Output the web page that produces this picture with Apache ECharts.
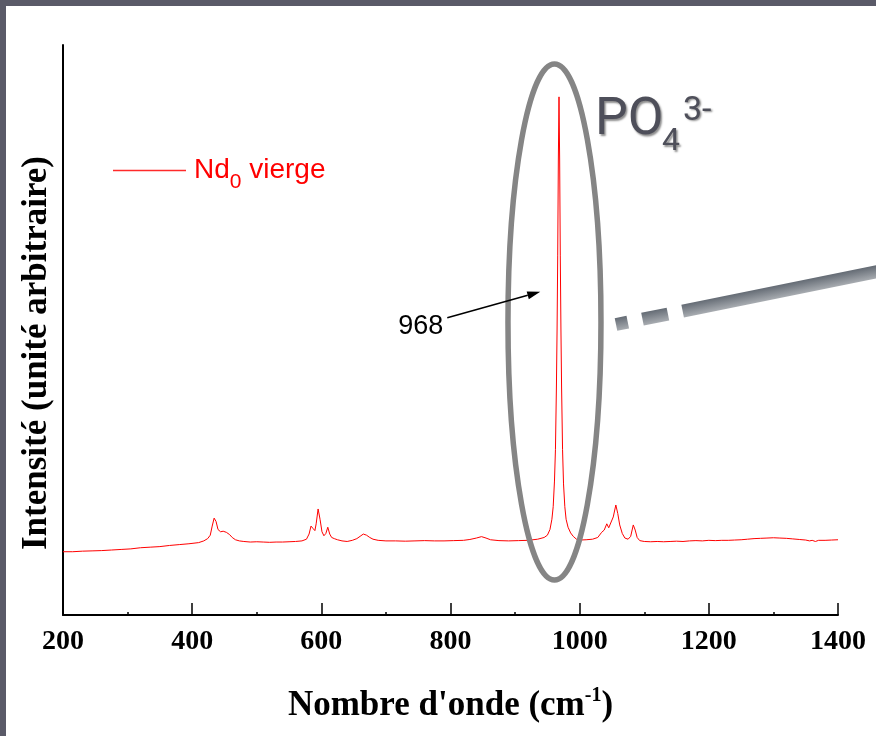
<!DOCTYPE html>
<html>
<head>
<meta charset="utf-8">
<script src="https://cdn.jsdelivr.net/npm/echarts@6/dist/echarts.min.js"></script>
<style>
  html, body { margin: 0; padding: 0; background: #5a5a68; }
  #chart { position: absolute; left: 6px; top: 6px; width: 870px; height: 730px; background: #fff; }
</style>
</head>
<body>
<div id="chart"></div>
<script>
// Raman spectrum of the pristine Nd0 sample
const seriesName = 'Nd0 vierge';
const xTicks = [200, 400, 600, 800, 1000, 1200, 1400];

const waveNumbers = [
  200, 215, 230, 245, 260, 275, 290, 305, 320, 335, 350, 365, 380, 395, 410,
  418, 424, 428, 431, 434, 437, 440, 444, 448, 453, 458, 462, 467, 473, 480,
  490, 500, 510, 520, 530, 540, 550, 560, 570, 577, 581, 584, 587, 590, 592,
  595, 598, 601, 604, 607, 610, 613, 616, 620, 625, 632, 640, 648, 655, 660,
  665, 670, 675, 680, 688, 700, 715, 730, 745, 760, 775, 790, 805, 820, 830,
  840, 848, 855, 862, 875, 890, 905, 920, 935, 945, 950, 954, 957, 959, 961,
  962.5, 964, 965, 966, 967, 968, 969, 970, 971, 972, 973.5, 975, 977, 979, 982,
  986, 990, 995, 1000, 1010, 1020, 1028, 1034, 1038, 1042, 1045, 1048, 1052, 1056, 1059,
  1062, 1066, 1070, 1075, 1079, 1083, 1086, 1089, 1093, 1100, 1110, 1120, 1130, 1140, 1150,
  1160, 1170, 1180, 1190, 1200, 1210, 1220, 1230, 1240, 1250, 1260, 1270, 1280, 1290, 1300,
  1310, 1320, 1330, 1340, 1350, 1356, 1360, 1365, 1370, 1380, 1390, 1400
];

const intensity = [
  11.1, 11.1, 11.2, 11.25, 11.3, 11.4, 11.5, 11.6, 11.8, 11.9, 12.0, 12.2, 12.35, 12.5, 12.7,
  13.0, 13.4, 14.0, 15.6, 17.0, 16.4, 15.0, 14.6, 14.7, 14.5, 14.1, 13.6, 13.2, 13.0, 12.9,
  12.8, 12.85, 12.8, 12.75, 12.8, 12.8, 12.85, 12.9, 13.0, 13.3, 14.2, 15.6, 15.2, 14.8, 16.0,
  18.6, 16.8, 14.6, 13.9, 14.3, 15.4, 14.2, 13.6, 13.4, 13.2, 13.0, 12.9, 13.1, 13.4, 13.8,
  14.2, 14.0, 13.6, 13.3, 13.1, 13.0, 13.0, 12.95, 13.0, 13.05, 13.0, 13.0, 13.05, 13.1, 13.25,
  13.5, 13.75, 13.5, 13.2, 13.05, 13.0, 13.05, 13.1, 13.3, 13.6, 14.0, 15.0, 16.8, 19.0, 23.5,
  29, 40, 50, 63, 80, 90.9, 80, 63, 50, 40, 29, 23, 19, 16.8, 15.4,
  14.4, 13.8, 13.3, 13.15, 13.2, 13.3, 13.6, 14.5, 14.9, 16.0, 15.3, 15.2, 17.2, 19.3, 17.8,
  15.8, 14.3, 13.5, 13.3, 13.8, 15.8, 14.9, 13.6, 13.05, 12.9, 12.85, 12.9, 12.85, 12.9, 12.95,
  12.9, 13.0, 13.05, 13.0, 13.1, 13.05, 13.1, 13.1, 13.15, 13.2, 13.3, 13.4, 13.45, 13.5, 13.55,
  13.5, 13.45, 13.35, 13.25, 13.15, 13.0, 13.1, 12.9, 13.1, 13.1, 13.15, 13.2
];

// Annotation anchors (data space)
const peakPosition = 968;
const peakLabel = '968';
const arrowTipData = [939, 56.7];
const ellipseCenterData = [961, 51.4];

const chart = echarts.init(document.getElementById('chart'), null, { renderer: 'canvas' });

const points = waveNumbers.map((w, i) => [w, intensity[i]]);

const serif = 'Liberation Serif, Times New Roman, serif';
const sans = 'Liberation Sans, Arial, sans-serif';

const option = {
  backgroundColor: '#ffffff',
  animation: false,
  grid: { left: 57, right: 38, top: 39, bottom: 121, containLabel: false },
  legend: {
    left: 107,
    top: 142,
    padding: 0,
    icon: 'rect',
    itemWidth: 73,
    itemHeight: 1.4,
    itemStyle: { color: '#ff2a2a', borderWidth: 0 },
    data: [seriesName],
    formatter: () => '{base|Nd}{sub|0}{base| vierge}',
    textStyle: {
      color: '#ff0000',
      fontFamily: sans,
      fontSize: 28,
      padding: [0, 0, 0, 3],
      rich: {
        base: { fontSize: 28, lineHeight: 40, color: '#ff0000', fontFamily: sans },
        sub: { fontSize: 21, lineHeight: 16, padding: [24, 0, 0, 0], color: '#ff0000', fontFamily: sans }
      }
    }
  },
  xAxis: {
    type: 'value',
    min: xTicks[0],
    max: xTicks[xTicks.length - 1],
    interval: 200,
    name: 'Nombre d\'onde (cm{sup|-1})',
    nameLocation: 'middle',
    nameGap: 71,
    nameTextStyle: {
      color: '#000',
      fontFamily: serif,
      fontWeight: 'bold',
      fontSize: 35,
      lineHeight: 40,
      rich: {
        sup: { fontSize: 20, lineHeight: 14, verticalAlign: 'top', fontWeight: 'bold',
               fontFamily: serif, color: '#000' }
      }
    },
    axisLine: { show: true, onZero: false, lineStyle: { color: '#000', width: 2 } },
    axisTick: { show: true, inside: true, length: 12, lineStyle: { color: '#000', width: 1.5 } },
    minorTick: { show: true, splitNumber: 2, length: 3, lineStyle: { color: '#000', width: 1.5 } },
    axisLabel: {
      color: '#000',
      fontFamily: serif,
      fontWeight: 'bold',
      fontSize: 28,
      margin: 13,
      formatter: (v) => String(v)
    },
    splitLine: { show: false }
  },
  yAxis: {
    type: 'value',
    min: 0,
    max: 100,
    name: 'Intensité (unité arbitraire)',
    nameLocation: 'middle',
    nameRotate: 90,
    nameGap: 9,
    nameTextStyle: {
      color: '#000',
      fontFamily: serif,
      fontWeight: 'bold',
      fontSize: 35,
      padding: [0, 46, 0, 0]
    },
    axisLine: { show: true, onZero: false, lineStyle: { color: '#000', width: 2 } },
    axisTick: { show: false },
    axisLabel: { show: false },
    splitLine: { show: false }
  },
  series: [{
    name: seriesName,
    type: 'line',
    data: points,
    symbol: 'none',
    smooth: false,
    color: '#ff0000',
    lineStyle: { color: '#ff0000', width: 1 }
  }]
};

chart.setOption(option);

// Decorations: ellipse around the main phosphate band, arrow with its label,
// the PO4(3-) tag and the dashed grey pointer bar.
const tip = chart.convertToPixel({ gridIndex: 0 }, arrowTipData);
const tail = [tip[0] - 93, tip[1] + 26];
const ang = Math.atan2(tip[1] - tail[1], tip[0] - tail[0]);
const headLen = 13, headHalf = 4;
const hb = [tip[0] - headLen * Math.cos(ang), tip[1] - headLen * Math.sin(ang)];
const head = [
  tip,
  [hb[0] + headHalf * Math.sin(ang), hb[1] - headHalf * Math.cos(ang)],
  [hb[0] - headHalf * Math.sin(ang), hb[1] + headHalf * Math.cos(ang)]
];
const ec = chart.convertToPixel({ gridIndex: 0 }, ellipseCenterData);

// pointer bar geometry
const barStart = [610, 318.5];
const dx = 0.980, dy = -0.198;   // bar direction
const nx = 0.198, ny = 0.980;    // across the bar
const half = 6.5;
function barSeg(t0, t1) {
  const a = [barStart[0] + dx * t0, barStart[1] + dy * t0];
  const b = [barStart[0] + dx * t1, barStart[1] + dy * t1];
  return [
    [a[0] - nx * half, a[1] - ny * half],
    [b[0] - nx * half, b[1] - ny * half],
    [b[0] + nx * half, b[1] + ny * half],
    [a[0] + nx * half, a[1] + ny * half]
  ];
}
const gx0 = barStart[0] - nx * half, gy0 = barStart[1] - ny * half;
const barFill = new echarts.graphic.LinearGradient(
  gx0, gy0, gx0 + nx * 2 * half, gy0 + ny * 2 * half,
  [{ offset: 0, color: '#646b74' }, { offset: 1, color: '#a8acb1' }], true);

const poFont = 'Roboto, Liberation Sans, sans-serif';
const poColor = '#4e4f5a';
const poShadow = { textShadowColor: 'rgba(0,0,0,0.45)', textShadowBlur: 2, textShadowOffsetX: 1.5, textShadowOffsetY: 1.5 };

chart.setOption({
  graphic: [
    {
      type: 'ellipse', z: 100,
      shape: { cx: ec[0], cy: ec[1], rx: 46.5, ry: 258 },
      style: { fill: 'none', stroke: '#858585', lineWidth: 5.5 }
    },
    {
      type: 'line', z: 100,
      shape: { x1: tail[0], y1: tail[1], x2: hb[0], y2: hb[1] },
      style: { stroke: '#000', lineWidth: 1.5 }
    },
    {
      type: 'polygon', z: 100,
      shape: { points: head },
      style: { fill: '#000' }
    },
    {
      type: 'text', z: 100,
      x: tail[0] - 4, y: tail[1] + 9,
      style: { text: peakLabel, fill: '#000', font: '27px ' + sans,
               align: 'right', verticalAlign: 'middle' }
    },
    {
      type: 'text', z: 100, x: 589, y: 115,
      style: Object.assign({ text: 'PO', fill: poColor, font: '52px ' + poFont,
               align: 'left', verticalAlign: 'middle' }, poShadow)
    },
    {
      type: 'text', z: 100, x: 656, y: 136,
      style: Object.assign({ text: '4', fill: poColor, font: '32px ' + poFont,
               align: 'left', verticalAlign: 'middle' }, poShadow)
    },
    {
      type: 'text', z: 100, x: 677, y: 105,
      style: Object.assign({ text: '3-', fill: poColor, font: '34px ' + poFont,
               align: 'left', verticalAlign: 'middle' }, poShadow)
    },
    { type: 'polygon', z: 100, shape: { points: barSeg(0, 12) }, style: { fill: barFill } },
    { type: 'polygon', z: 100, shape: { points: barSeg(27, 53) }, style: { fill: barFill } },
    { type: 'polygon', z: 100, shape: { points: barSeg(68, 300) }, style: { fill: barFill } }
  ]
});
</script>
</body>
</html>
